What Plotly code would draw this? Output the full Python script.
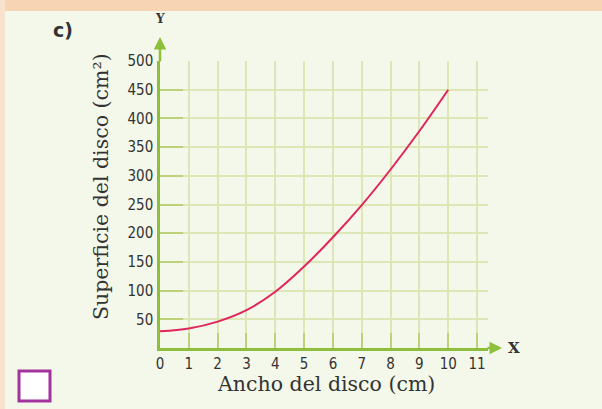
import plotly.graph_objects as go

# ---- data ----
ancho_cm = [0, 1, 2, 3, 4, 5, 6, 7, 8, 9, 10]
superficie_cm2 = [29, 34, 46, 66, 98, 142, 193, 249, 311, 378, 450]
x_ticks = [0, 1, 2, 3, 4, 5, 6, 7, 8, 9, 10, 11]
y_ticks = [50, 100, 150, 200, 250, 300, 350, 400, 450, 500]

# ---- layout geometry (pixels) ----
W, H = 602, 409
L, R, T, B = 160, 488, 61, 348  # plot area edges


def px(xp):
    return (xp - L) / (R - L)


def py(yp):
    return (B - yp) / (B - T)


CREAM = "#f4f8ea"
GRID = "#dde7b6"
TICK = "#bcd27a"
AXIS = "#8dbf3c"
TXT = "#333333"

fig = go.Figure()
fig.add_trace(go.Scatter(
    x=ancho_cm, y=superficie_cm2, mode="lines",
    line=dict(color="#e2245c", width=2, shape="spline", smoothing=1.0),
    hoverinfo="skip", showlegend=False,
))

tickfont = dict(family="Liberation Sans Narrow, DejaVu Sans Condensed, sans-serif", size=15, color=TXT)

fig.update_xaxes(
    range=[0, 11.38], tickvals=x_ticks, ticktext=[str(v) for v in x_ticks],
    showgrid=True, gridcolor=GRID, gridwidth=1.5,
    ticks="inside", ticklen=15, tickwidth=2, tickcolor=TICK,
    showline=True, linecolor=AXIS, linewidth=2.5,
    zeroline=False, tickfont=tickfont, ticklabelstandoff=0,
    fixedrange=True,
)
fig.update_yaxes(
    range=[0, 500], tickvals=y_ticks, ticktext=[str(v) for v in y_ticks],
    showgrid=True, gridcolor=GRID, gridwidth=1.5,
    ticks="inside", ticklen=23, tickwidth=2, tickcolor=TICK,
    showline=True, linecolor=AXIS, linewidth=2.5,
    zeroline=False, tickfont=tickfont, ticklabelstandoff=1,
    fixedrange=True,
)

shapes = [
    # orange textured frame (top strip & left strip)
    dict(type="rect", xref="paper", yref="paper", x0=px(0), x1=px(W), y0=py(0), y1=py(11),
         fillcolor="#f6d4b4", line=dict(width=0), layer="below"),
    dict(type="rect", xref="paper", yref="paper", x0=px(0), x1=px(5), y0=py(H), y1=py(0),
         fillcolor="#f8e2cd", line=dict(width=0), layer="below"),
    # checkbox
    dict(type="rect", xref="paper", yref="paper", x0=px(19), x1=px(50), y0=py(401), y1=py(371),
         fillcolor="#ffffff", line=dict(color="#a2339d", width=3), layer="above"),
]

serif = "DejaVu Serif, Liberation Serif, serif"
annotations = [
    # axis arrows
    dict(xref="paper", yref="paper", x=px(502), y=0, ax=-16, ay=0, text="",
         showarrow=True, arrowhead=2, arrowsize=1, arrowwidth=2.5, arrowcolor=AXIS),
    dict(xref="paper", yref="paper", x=0, y=py(37), ax=0, ay=26, text="",
         showarrow=True, arrowhead=2, arrowsize=1, arrowwidth=2.5, arrowcolor=AXIS),
    dict(xref="paper", yref="paper", x=px(514), y=py(348), text="<b>X</b>", showarrow=False,
         font=dict(family=serif, size=15, color=TXT), xanchor="center", yanchor="middle"),
    dict(xref="paper", yref="paper", x=px(160), y=py(19), text="<b>Y</b>", showarrow=False,
         font=dict(family=serif, size=12, color=TXT), xanchor="center", yanchor="middle"),
    # axis titles
    dict(xref="paper", yref="paper", x=px(326), y=py(384), text="Ancho del disco (cm)",
         showarrow=False, font=dict(family=serif, size=20.5, color=TXT),
         xanchor="center", yanchor="middle"),
    dict(xref="paper", yref="paper", x=px(101), y=py(187), text="Superficie del disco (cm²)",
         showarrow=False, textangle=-90, font=dict(family=serif, size=20.5, color=TXT),
         xanchor="center", yanchor="middle"),
    # panel label
    dict(xref="paper", yref="paper", x=px(63), y=py(30), text="<b>c)</b>", showarrow=False,
         font=dict(family="DejaVu Sans, sans-serif", size=19, color=TXT),
         xanchor="center", yanchor="middle"),
]

fig.update_layout(
    width=W, height=H,
    margin=dict(l=L, r=W - R, t=T, b=H - B, pad=0),
    paper_bgcolor=CREAM, plot_bgcolor=CREAM,
    shapes=shapes, annotations=annotations,
    showlegend=False,
)

fig.write_html(
    "out.html",
    config={"displayModeBar": False},
    post_script="document.body.style.margin='0';document.body.style.padding='0';",
)
